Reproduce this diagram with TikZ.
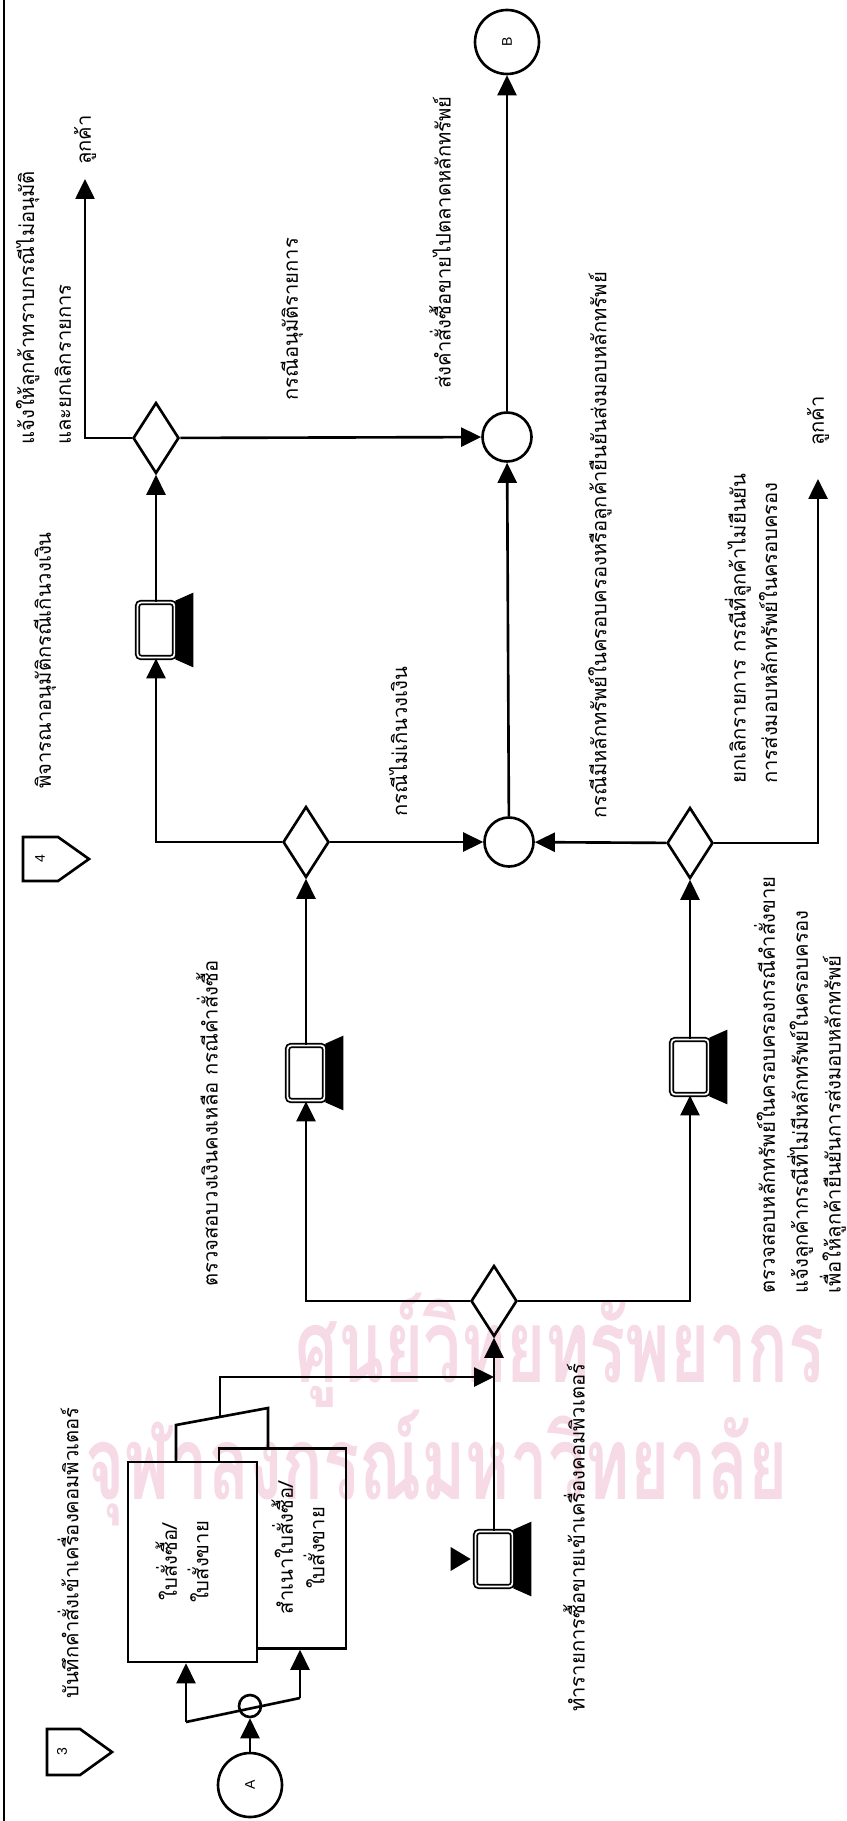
\documentclass[tikz,border=0pt]{standalone}
\usepackage{fontspec}
\newfontfamily\thaifont[Script=Thai]{Loma}
\newfontfamily\wmfont[Script=Thai,FakeStretch=0.66]{Loma}
\newfontfamily\latinfont{Liberation Sans}
\usetikzlibrary{shapes.geometric,arrows.meta,calc}
\definecolor{wmpink}{RGB}{246,218,230}

\tikzset{
  flow/.style={-{Triangle[length=0.4cm,width=0.38cm]}},
  lbl/.style={rotate=90,font=\thaifont\fontsize{11.5}{18}\selectfont,inner sep=0pt,align=left,anchor=west},
  dec/.style={draw,diamond,fill=white,inner sep=0pt,minimum width=0.92cm,minimum height=1.42cm},
  jct/.style={draw,circle,minimum size=0.98cm,inner sep=0pt},
  conn/.style={draw,circle,minimum size=1.28cm,inner sep=0pt,rotate=90,font=\latinfont\footnotesize},
  doc/.style={draw,fill=white,inner sep=0pt},
  screen/.style={draw,rounded corners=2pt,double,double distance=1pt,line width=1pt,fill=white,minimum width=0.74cm,minimum height=1.1cm,inner sep=0pt},
  wmark/.style={text=wmpink,font=\wmfont\bfseries\fontsize{58}{64}\selectfont,inner sep=0pt}
}

% black stand under a screen
\newcommand{\termbase}[1]{\fill ([shift={(0,1)}]#1.north east) -- ([shift={(18,9)}]#1.north east) -- ([shift={(18,-9)}]#1.south east) -- ([shift={(0,-1)}]#1.south east) -- cycle;}

\begin{document}
\begin{tikzpicture}[x=0.02cm,y=0.02cm,line width=1.5pt]
\useasboundingbox (0,0) rectangle (847,-1821);

\draw (4,0) -- (4,-1821);

% headings
\draw (47,-1729) -- (80,-1729) -- (112,-1752) -- (80,-1775) -- (47,-1775) -- cycle;
\node[rotate=90,font=\latinfont\footnotesize] (n3) at (62,-1752) {3};
\node[lbl] (title3) at (68,-1700) {บันทึกคำสั่งเข้าเครื่องคอมพิวเตอร์};

\draw (23,-837) -- (58,-837) -- (89,-859) -- (58,-881) -- (23,-881) -- cycle;
\node[rotate=90,font=\latinfont\footnotesize] (n4) at (40,-859) {4};
\node[lbl] (title4) at (45,-790) {พิจารณาอนุมัติกรณีเกินวงเงิน};

% input
\node[conn] (A) at (250,-1785) {A};
\node[draw,circle,minimum size=0.44cm,inner sep=0pt] (k) at (250,-1706) {};
\draw[flow] (A) -- (k);
\coordinate (p1) at (186,-1722);
\coordinate (p2) at (300,-1698);
\draw (p1) -- (p2);

\draw (268,-1449) -- (268,-1408) -- (176,-1425) -- (176,-1462);
\node[doc,minimum width=2.54cm,minimum height=4cm] (doc2) at (282.5,-1548.5) {};
\node[doc,minimum width=2.58cm,minimum height=4cm] (doc1) at (192.5,-1562) {};
\node[lbl,anchor=center,align=center] (doc1txt) at (182,-1562) {ใบสั่งซื้อ/\\ใบสั่งขาย};
\node[lbl,anchor=center,align=center] (doc2txt) at (298,-1548) {สำเนาใบสั่งซื้อ/\\ใบสั่งขาย};
\draw[flow] (p1) -- (p1 |- doc1.south);
\draw[flow] (p2) -- (p2 |- doc2.south);

% terminals
\node[screen] (t1) at (494,-1559) {};
\termbase{t1}
\fill ([shift={(-24,12)}]t1.west) -- ([shift={(-24,-12)}]t1.west) -- ([shift={(-4,0)}]t1.west) -- cycle;
\node[lbl] (t1txt) at (574,-1713) {ทำรายการซื้อขายเข้าเครื่องคอมพิวเตอร์};

\node[dec] (d1) at (494,-1301) {};
\coordinate (m) at (494,-1377);
\draw[flow] (220,-1417) |- (m);
\draw[flow] (t1) -- (d1);

\node[screen] (t2) at (306,-1073) {};
\termbase{t2}
\node[screen] (t3) at (690,-1067) {};
\termbase{t3}
\draw[flow] (d1.west) -| (t2.south);
\draw[flow] (d1.east) -| (t3.south);
\node[lbl] (t2txt) at (207,-1288) {ตรวจสอบวงเงินคงเหลือ กรณีคำสั่งซื้อ};
\node[lbl,font=\thaifont\fontsize{11.5}{18.7}\selectfont] (t3txt) at (800,-1295) {ตรวจสอบหลักทรัพย์ในครอบครองกรณีคำสั่งขาย\\แจ้งลูกค้ากรณีที่ไม่มีหลักทรัพย์ในครอบครอง\\เพื่อให้ลูกค้ายืนยันการส่งมอบหลักทรัพย์};

\node[dec] (d2) at (306,-842) {};
\node[dec] (d3) at (690,-843) {};
\node[jct] (c1) at (509,-842) {};
\draw[flow] (t2) -- (d2);
\draw[flow] (t3) -- (d3);
\draw[flow] (d2) -- (c1);
\draw[flow] (d3) -- (c1);
\node[lbl] (ok1) at (398,-818) {กรณีไม่เกินวงเงิน};
\node[lbl] (ok2) at (600,-820) {กรณีมีหลักทรัพย์ในครอบครองหรือลูกค้ายืนยันส่งมอบหลักทรัพย์};
\node[lbl] (cancel2) at (751,-785) {ยกเลิกรายการ กรณีที่ลูกค้าไม่ยืนยัน\\การส่งมอบหลักทรัพย์ในครอบครอง};
\node[lbl] (cust2) at (818,-447) {ลูกค้า};
\draw[flow,shorten >=0.64cm] (d3.east) -| (cust2.west);

% approval
\node[screen] (t4) at (156,-630) {};
\termbase{t4}
\draw[flow] (d2.west) -| (t4.south);
\node[dec] (d4) at (156,-438) {};
\node[jct] (c2) at (507,-437) {};
\draw[flow] (t4) -- (d4);
\draw[flow] (d4) -- (c2);
\draw[flow] (c1) -- (c2);
\node[lbl] (yes4) at (292,-402) {กรณีอนุมัติรายการ};
\node[lbl,font=\thaifont\fontsize{11.5}{21}\selectfont] (cancel1) at (43.5,-446) {แจ้งให้ลูกค้าทราบกรณีไม่อนุมัติ\\และยกเลิกรายการ};
\node[lbl] (cust1) at (85,-166) {ลูกค้า};
\draw[flow,shorten >=0.26cm] (d4.west) -| (cust1.west);

% to market
\node[conn] (B) at (507,-42) {B};
\draw[flow] (c2) -- (B);
\node[lbl] (send) at (440,-390) {ส่งคำสั่งซื้อขายไปตลาดหลักทรัพย์};

% library stamp
\begin{scope}[blend mode=multiply]
\node[wmark] (wm1) at (560,-1350) {ศูนย์วิทยทรัพยากร};
\node[wmark,anchor=west] (wm2) at (84,-1468) {จุฬาลงกรณ์มหาวิทยาลัย};
\end{scope}

\end{tikzpicture}
\end{document}
